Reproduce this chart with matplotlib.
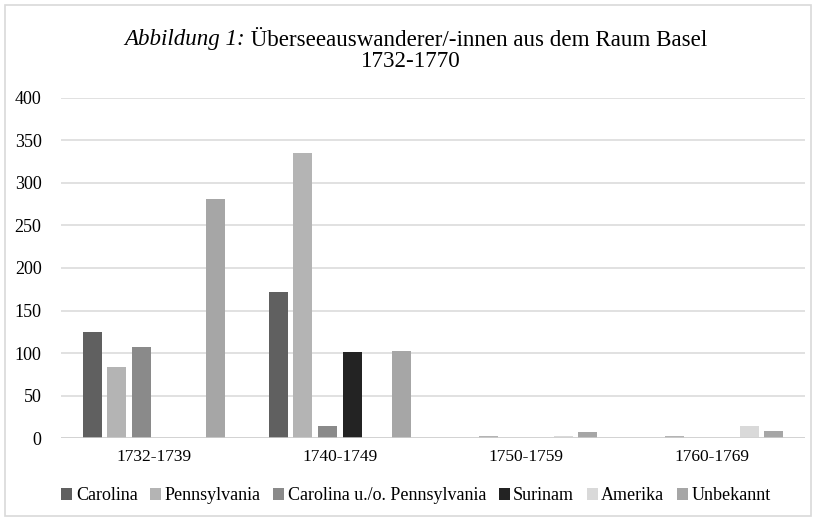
import matplotlib
matplotlib.use("Agg")
import matplotlib.pyplot as plt
from matplotlib.patches import Rectangle
import numpy as np

plt.rcParams['font.family'] = ['Liberation Serif', 'DejaVu Serif']

periods = ["1732-1739", "1740-1749", "1750-1759", "1760-1769"]
series_names = ["Carolina", "Pennsylvania", "Carolina u./o. Pennsylvania",
                "Surinam", "Amerika", "Unbekannt"]
carolina = [125, 172, 0, 0]
pennsylvania = [84, 335, 3, 3]
carolina_or_penn = [107, 15, 0, 0]
surinam = [0, 101, 0, 0]
amerika = [0, 0, 3, 15]
unbekannt = [281, 102, 7, 8]
series_values = [carolina, pennsylvania, carolina_or_penn, surinam, amerika, unbekannt]
colors = ["#606060", "#b4b4b4", "#8a8a8a", "#232323", "#d9d9d9", "#a6a6a6"]
y_ticks = [0, 50, 100, 150, 200, 250, 300, 350, 400]

W, H = 816, 520
fig = plt.figure(figsize=(W/100, H/100), dpi=100)
fig.patches.append(Rectangle((5/W, 4/H), 806/W, 511/H, transform=fig.transFigure,
                             fill=False, edgecolor="#d9d9d9", linewidth=1.2))

ax = fig.add_axes([61/W, 1-438.3/H, (805-61)/W, (438.3-97.7)/H])
x = np.arange(len(periods))
slot = 0.133
bw = 0.102
for i, (name, vals, c) in enumerate(zip(series_names, series_values, colors)):
    ax.bar(x + (i-2.5)*slot, vals, width=bw, color=c, label=name, zorder=3)

ax.set_xlim(-0.5, len(periods)-0.5)
ax.set_ylim(0, 400)
ax.set_yticks(y_ticks)
ax.set_yticklabels([str(v) for v in y_ticks], fontsize=13)
ax.set_xticks(x)
ax.set_xticklabels(periods, fontsize=12.5)
ax.tick_params(axis='both', length=0, pad=8)
ax.tick_params(axis='y', pad=14)
ax.grid(axis='y', color="#d9d9d9", linewidth=1.1, zorder=0)
for s in ax.spines.values():
    s.set_visible(False)
ax.axhline(0, color="#d0d0d0", linewidth=1.1, zorder=4)

# Title with mixed italic
title_center = 416
t1 = fig.text(0, 0, "Abbildung 1:", fontsize=16.6, style='italic', ha='left', va='center')
t2 = fig.text(0, 0, " Überseeauswanderer/-innen aus dem Raum Basel", fontsize=16.6, ha='left', va='center')
fig.canvas.draw()
r = fig.canvas.get_renderer()
w1 = t1.get_window_extent(r).width
w2 = t2.get_window_extent(r).width
start = title_center - (w1 + w2) / 2
t1.set_position((start/W, 1-40/H))
t2.set_position(((start+w1)/W, 1-40/H))
fig.text(411/W, 1-61.5/H, "1732-1770", fontsize=16.6, ha='center', va='center')

leg = fig.legend(loc='center', bbox_to_anchor=(416/W, 1-496/H), ncol=6, frameon=False,
                 fontsize=13, handlelength=0.6, handleheight=0.6, handletextpad=0.2,
                 columnspacing=0.7, borderpad=0)

fig.savefig("out.png", dpi=100, facecolor="white")
